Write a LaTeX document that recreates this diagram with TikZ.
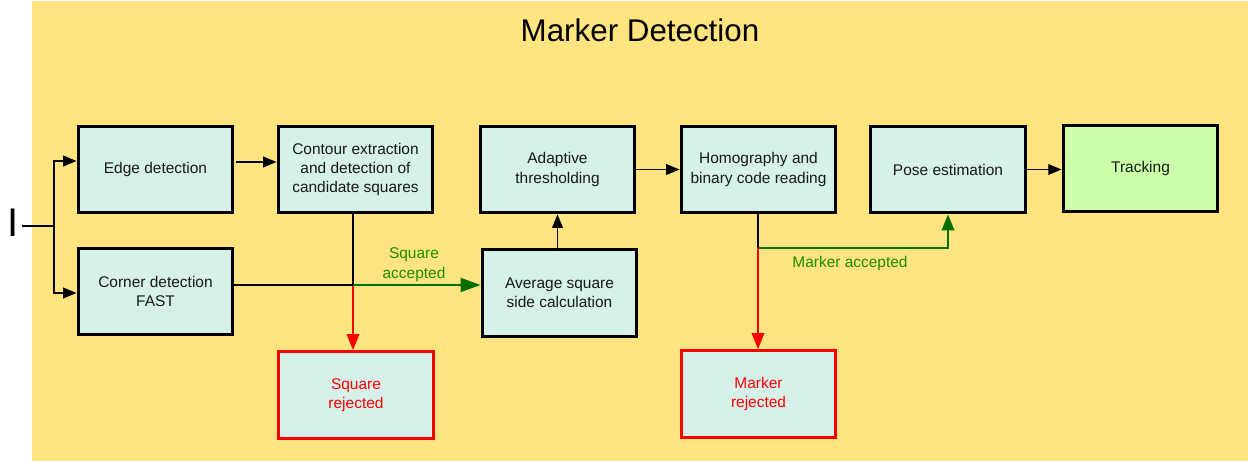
\documentclass[tikz,border=0pt]{standalone}
\usepackage{fontspec}
\setmainfont{Liberation Sans}
\usetikzlibrary{arrows.meta,calc}
\definecolor{bgy}{RGB}{255,228,128}
\definecolor{boxc}{RGB}{214,241,234}
\definecolor{trk}{RGB}{204,255,170}
\definecolor{agreen}{RGB}{0,110,0}
\definecolor{tgreen}{RGB}{30,140,0}
\definecolor{rred}{RGB}{255,0,0}
\begin{document}
\begin{tikzpicture}[x=0.75pt,y=-0.75pt,
  box/.style={draw=black, line width=2.4pt, fill=boxc, minimum width=116pt, minimum height=65pt,
    align=center, font=\fontsize{11.6}{14.6}\selectfont, inner sep=0pt, text=black!90},
  rejbox/.style={box, draw=rred, text=rred},
  conn/.style={line width=1pt, draw=black},
  blk/.style={conn, -{Triangle[length=10pt,width=8pt]}},
  redarr/.style={line width=1pt, draw=rred, -{Triangle[length=12pt,width=9.5pt]}},
  garr/.style={line width=1.2pt, draw=agreen, -{Triangle[length=15pt,width=10.5pt]}},
  garrb/.style={line width=1.2pt, draw=agreen, -{Triangle[length=12pt,width=9.5pt]}},
  lbl/.style={text=tgreen, align=center, font=\fontsize{11.6}{14.6}\selectfont, inner sep=0pt}
]
\useasboundingbox (0,0) rectangle (1248,461);
\fill[bgy] (32,1) rectangle (1248,461);

\node[font=\fontsize{23.5}{28}\selectfont] (title) at (640,30) {Marker Detection};

\node[font=\fontsize{30}{34}\selectfont, inner sep=0pt] (inp) at (13,223) {I};

\node[box] (edge) at (155.5,169.5) {Edge detection};
\node[box] (contour) at (355.5,169.5) {Contour extraction\\and detection of\\candidate squares};
\node[box] (adapt) at (557.5,169.5) {Adaptive\\thresholding};
\node[box] (homog) at (758.5,169.5) {Homography and\\binary code reading};
\node[box] (pose) at (948,169.5) {Pose estimation};
\node[box, fill=trk] (track) at (1140.5,168.5) {Tracking};
\node[box] (corner) at (155.5,291.5) {Corner detection\\FAST};
\node[box] (avg) at (559.5,293) {Average square\\side calculation};
\node[rejbox] (sqrej) at (356,395) {Square\\rejected};
\node[rejbox] (mkrej) at (758.5,394) {Marker\\rejected};

\coordinate (in) at (22,226);
\coordinate (split) at (54,226);
\coordinate (y161) at (0,161);
\coordinate (y293) at (0,293);
\coordinate (y162) at (0,162);
\coordinate (j1) at (353,285);
\coordinate (j2) at (758,248);

\draw[conn] (in) -- (split);
\draw[blk] (split) |- (edge.west |- y161);
\draw[blk] (split) |- (corner.west |- y293);
\draw[blk] ($(edge.east |- y162)+(2,0)$) -- (contour.west |- y162);

\draw[conn] (contour.south -| j1) -- (j1);
\draw[redarr] (j1) -- (sqrej.north -| j1);
\draw[conn] (corner.east |- j1) -- (j1);
\draw[garr] (j1) -- (avg.west |- j1);

\draw[blk] (avg.north -| adapt.south) -- (adapt.south);
\draw[blk] (adapt.east) -- (homog.west);

\draw[conn] (homog.south -| j2) -- (j2);
\draw[garrb] (j2) -| (pose.south);
\draw[redarr] (j2) -- (mkrej.north -| j2);
\draw[blk] (pose.east) -- (track.west |- pose.east);

\node[lbl] (sqacc) at (414,264.5) {Square\\accepted};
\node[lbl] (mkacc) at (850,263) {Marker accepted};
\end{tikzpicture}
\end{document}
